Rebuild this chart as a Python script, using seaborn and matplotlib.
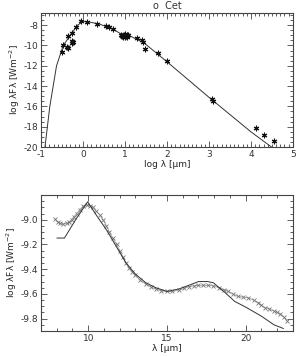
import numpy as np
import pandas as pd
import matplotlib
matplotlib.use("Agg")
import matplotlib.pyplot as plt
from matplotlib.ticker import MultipleLocator, FormatStrFormatter
import seaborn as sns

# --- top panel: SED (log lambda vs log lambda F lambda) ---
sed_model_x = [-0.905, -0.79, -0.71, -0.63, -0.47, -0.27, -0.13, 0.0, 0.1, 0.4,
               0.72, 0.88, 1.0, 1.05, 1.12, 1.28, 1.44, 2.0, 3.0, 4.0, 4.49]
sed_model_y = [-20.0, -16.0, -14.0, -12.0, -10.0, -8.8, -8.0, -7.65, -7.65, -7.9,
               -8.4, -8.8, -9.0, -8.95, -9.05, -9.4, -9.7, -11.6, -15.1, -18.5, -20.0]

sed_obs_x = [-0.49, -0.47, -0.39, -0.35, -0.36, -0.25, -0.27, -0.23, -0.26,
             -0.16, -0.05, 0.1, 0.33, 0.55, 0.62, 0.71,
             0.9, 0.93, 0.96, 0.98, 1.0, 1.02, 1.04, 1.06, 1.08, 0.95, 1.0, 1.05,
             1.29, 1.4, 1.44, 1.48, 1.78, 2.0, 3.07, 3.1, 4.11, 4.31, 4.55]
sed_obs_y = [-10.6, -10.0, -10.1, -10.2, -9.1, -9.6, -8.8, -9.65, -9.75,
             -8.2, -7.6, -7.7, -7.9, -8.1, -8.2, -8.4,
             -9.0, -9.1, -9.2, -9.0, -9.15, -9.05, -9.2, -9.0, -8.95, -9.1, -8.9, -9.1,
             -9.3, -9.5, -9.7, -10.3, -10.75, -11.5, -15.3, -15.45, -18.1, -18.8, -19.45]

# --- bottom panel: mid-IR spectrum ---
ir_model_x = [8.01, 8.49, 9.2, 9.96, 10.5, 11.15, 11.8, 12.4, 13.0, 13.66, 14.3,
              15.0, 15.75, 16.4, 17.0, 17.6, 17.95, 18.7, 19.3, 20.05, 21.0, 21.8, 22.4]
ir_model_y = [-9.148, -9.148, -9.0, -8.855, -8.96, -9.08, -9.22, -9.35, -9.44, -9.51, -9.55,
              -9.58, -9.56, -9.53, -9.5, -9.5, -9.51, -9.59, -9.66, -9.71, -9.78, -9.85, -9.88]

ir_obs_x = [7.87, 8.05, 8.22, 8.4, 8.64, 8.8, 8.95, 9.1, 9.27, 9.45, 9.69, 9.94,
            10.1, 10.3, 10.5, 10.73, 10.95, 11.15, 11.35, 11.55, 11.8, 12.0, 12.2,
            12.4, 12.6, 12.8, 13.0, 13.3, 13.66, 14.0, 14.3, 14.65, 15.0, 15.35,
            15.75, 16.1, 16.4, 16.7, 17.0, 17.3, 17.6, 17.95, 18.3, 18.6, 18.9,
            19.2, 19.5, 19.8, 20.15, 20.5, 20.8, 21.0, 21.2, 21.5, 21.8, 22.0,
            22.2, 22.45, 22.65]
ir_obs_y = [-8.99, -9.02, -9.03, -9.035, -9.03, -9.015, -9.0, -8.975, -8.95, -8.92, -8.89, -8.88,
            -8.885, -8.9, -8.93, -8.96, -9.0, -9.05, -9.1, -9.15, -9.2, -9.25, -9.3,
            -9.35, -9.39, -9.42, -9.45, -9.49, -9.52, -9.545, -9.56, -9.575, -9.58, -9.58,
            -9.57, -9.555, -9.54, -9.535, -9.53, -9.53, -9.53, -9.535, -9.55, -9.565, -9.58,
            -9.6, -9.62, -9.625, -9.63, -9.65, -9.67, -9.69, -9.71, -9.72, -9.74, -9.75,
            -9.76, -9.79, -9.82]

top_yticks = [-20, -18, -16, -14, -12, -10, -8]
bottom_yticks = [-9.8, -9.6, -9.4, -9.2, -9.0]

sns.set_style("ticks")
plt.rcParams['font.family'] = ['DejaVu Sans']
plt.rcParams['axes.unicode_minus'] = False
plt.rcParams['font.size'] = 6.5
plt.rcParams['text.color'] = '#333333'
plt.rcParams['xtick.labelcolor'] = '#333333'
plt.rcParams['ytick.labelcolor'] = '#333333'

fig = plt.figure(figsize=(2.96, 3.56), dpi=100)
ax1 = fig.add_axes([0.1385, 0.587, 0.851, 0.3765])
ax2 = fig.add_axes([0.1385, 0.0702, 0.851, 0.382])

frame = '#444444'
ylab = 'log λFλ [Wm$^{-2}$]'

# top
sed_model = pd.DataFrame({'x': sed_model_x, 'y': sed_model_y})
sed_obs = pd.DataFrame({'x': sed_obs_x, 'y': sed_obs_y})
sns.lineplot(data=sed_model, x='x', y='y', ax=ax1, sort=False, color='#333333', linewidth=0.7)
ax1.plot(sed_obs['x'], sed_obs['y'], linestyle='None', marker=(6, 2, 0),
         markersize=4, color='#111111', markeredgewidth=0.8)
ax1.set_xlim(-1, 5)
ax1.set_ylim(-20, -6.8)
ax1.xaxis.set_major_locator(MultipleLocator(1))
ax1.xaxis.set_minor_locator(MultipleLocator(0.1))
ax1.set_yticks(top_yticks)
ax1.yaxis.set_minor_locator(MultipleLocator(0.5))
ax1.set_xlabel('log λ [μm]', labelpad=1)
ax1.set_ylabel(ylab, labelpad=1)
ax1.set_title('o  Cet', pad=3, fontsize=7)

# bottom
ir_model = pd.DataFrame({'x': ir_model_x, 'y': ir_model_y})
ir_obs = pd.DataFrame({'x': ir_obs_x, 'y': ir_obs_y})
sns.lineplot(data=ir_obs, x='x', y='y', ax=ax2, sort=False, color='#999999', linewidth=0.6,
             marker='x', markersize=2.5, markeredgewidth=0.6, markeredgecolor='#777777')
sns.lineplot(data=ir_model, x='x', y='y', ax=ax2, sort=False, color='#333333', linewidth=0.7)
ax2.set_xlim(7, 23)
ax2.set_ylim(-9.9, -8.8)
ax2.xaxis.set_major_locator(MultipleLocator(5))
ax2.xaxis.set_minor_locator(MultipleLocator(1))
ax2.set_yticks(bottom_yticks)
ax2.yaxis.set_minor_locator(MultipleLocator(0.05))
ax2.yaxis.set_major_formatter(FormatStrFormatter('%.1f'))
ax2.set_xlabel('λ [μm]', labelpad=1)
ax2.set_ylabel(ylab, labelpad=1)

for ax in (ax1, ax2):
    for s in ax.spines.values():
        s.set_color(frame)
        s.set_linewidth(0.8)
    ax.tick_params(which='both', direction='in', top=True, right=True,
                   color=frame, width=0.6, labelsize=6.5, pad=2)
    ax.tick_params(which='major', length=4)
    ax.tick_params(which='minor', length=2)

fig.savefig('out.png', dpi=100)
